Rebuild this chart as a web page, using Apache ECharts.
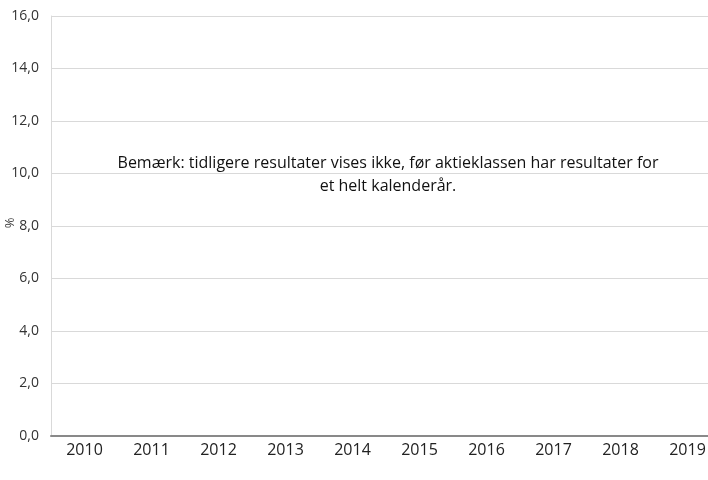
<!DOCTYPE html>
<html>
<head>
<meta charset="utf-8">
<script src="https://cdn.jsdelivr.net/npm/echarts@6/dist/echarts.min.js"></script>
<style>
  html, body { margin: 0; padding: 0; background: #fff; }
  #chart { width: 708px; height: 480px; }
</style>
</head>
<body>
<div id="chart"></div>
<script>
const years = ['2010', '2011', '2012', '2013', '2014', '2015', '2016', '2017', '2018', '2019']
// no results shown for this share class
const values = [null, null, null, null, null, null, null, null, null, null]
const note = 'Bemærk: tidligere resultater vises ikke, før aktieklassen har resultater for\net helt kalenderår.'
const unit = '%'

const chart = echarts.init(document.getElementById('chart'))

const option = {
  animation: false,
  grid: { left: 51, top: 16, width: 670, height: 420, containLabel: false, outerBoundsMode: 'none' },
  xAxis: {
    type: 'category',
    data: years,
    axisLine: { lineStyle: { color: '#898989', width: 2 } },
    axisTick: { show: false },
    axisLabel: { color: '#222', fontSize: 16, margin: 6, fontFamily: 'Open Sans' },
  },
  yAxis: {
    type: 'value',
    min: 0,
    max: 16,
    interval: 2,
    axisLine: { show: true, lineStyle: { color: '#d9d9d9' } },
    axisTick: { show: false },
    splitLine: { lineStyle: { color: '#d9d9d9' } },
    axisLabel: {
      color: '#333',
      fontSize: 14,
      margin: 12,
      fontFamily: 'Open Sans',
      formatter: (v) => v.toFixed(1).replace('.', ','),
    },
  },
  graphic: [
    {
      type: 'text',
      x: 388,
      y: 152,
      style: {
        text: note,
        fill: '#111',
        fontSize: 16,
        lineHeight: 23,
        align: 'center',
        fontFamily: 'Open Sans',
      },
    },
    {
      type: 'text',
      x: 10,
      y: 223,
      rotation: Math.PI / 2,
      style: {
        text: unit,
        fill: '#444',
        fontSize: 13,
        align: 'center',
        verticalAlign: 'middle',
        fontFamily: 'Open Sans',
      },
    },
  ],
  series: [
    {
      type: 'line',
      data: values,
      symbol: 'none',
    },
  ],
}
chart.setOption(option)
</script>
</body>
</html>
